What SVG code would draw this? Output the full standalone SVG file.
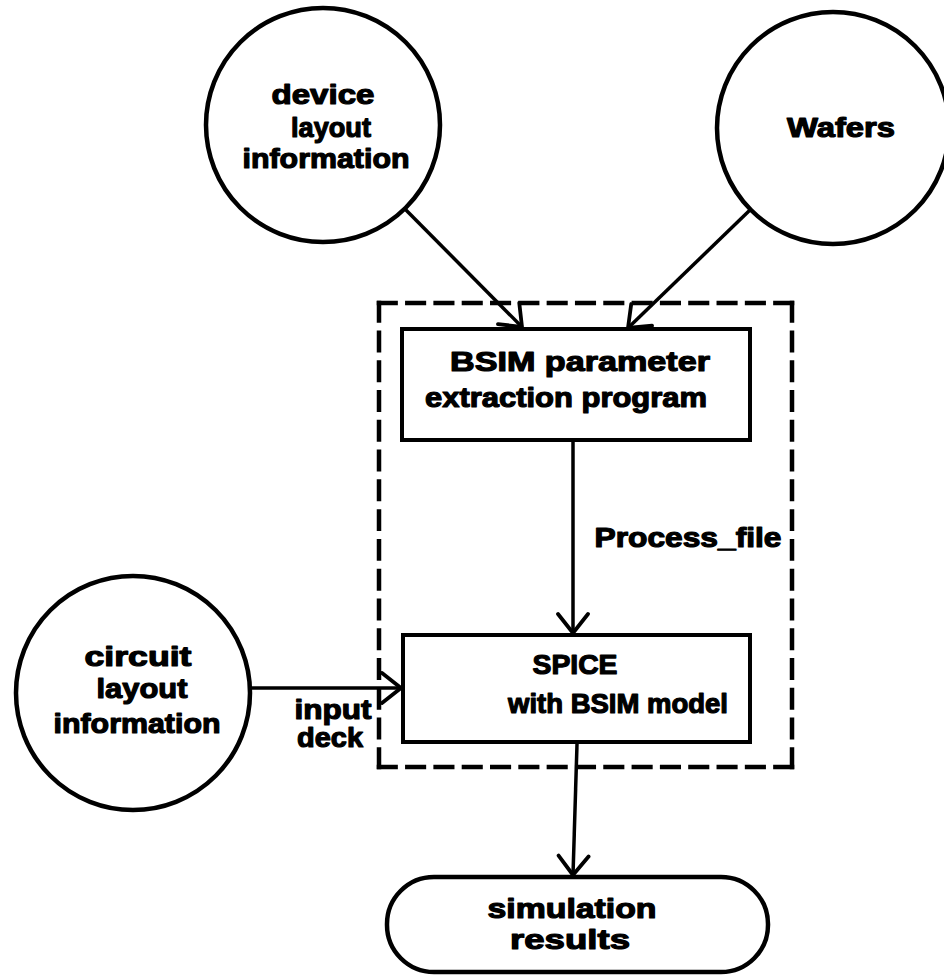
<svg xmlns="http://www.w3.org/2000/svg" width="944" height="977" viewBox="0 0 944 977">
  <style>
    .bg { fill: #ffffff; }
    .shape { fill: #ffffff; stroke: #000000; stroke-width: 4.5; }
    .box { fill: #ffffff; stroke: #000000; stroke-width: 4; }
    .frame { fill: none; stroke: #000000; stroke-width: 4.5; stroke-dasharray: 17 12; stroke-linecap: square; }
    .link { fill: none; stroke: #000000; stroke-width: 3.5; }
    .label { font-family: "Liberation Sans", Arial, Helvetica, sans-serif; font-weight: bold; font-size: 28px; fill: #000000; stroke: #000000; stroke-width: 1.2; stroke-linejoin: round; }
  </style>
  <defs>
    <marker id="open-arrow" markerUnits="userSpaceOnUse" markerWidth="34" markerHeight="36" refX="22" refY="17" orient="auto">
      <path d="M3,2 L22,17 L3,32" fill="none" stroke="#000000" stroke-width="3.8" stroke-linecap="round" stroke-linejoin="round"/>
    </marker>
  </defs>

  <rect class="bg" x="0" y="0" width="944" height="977"/>

  <!-- dashed boundary around the extraction and simulation stages;
       each side is scaled so a dash lands on both of its corners -->
  <g id="stage-boundary">
    <path class="frame" d="M379,303 H792" pathLength="423"/>
    <path class="frame" d="M792,303 V767" pathLength="452"/>
    <path class="frame" d="M792,767 H379" pathLength="423"/>
    <path class="frame" d="M379,767 V303" pathLength="452"/>
  </g>

  <g id="connectors">
    <line class="link" x1="403" y1="207" x2="522" y2="327" marker-end="url(#open-arrow)"/>
    <line class="link" x1="750" y1="210" x2="628" y2="328" marker-end="url(#open-arrow)"/>
    <line class="link" x1="573" y1="442" x2="573" y2="633" marker-end="url(#open-arrow)"/>
    <line class="link" x1="250" y1="688" x2="401" y2="688" marker-end="url(#open-arrow)"/>
    <line class="link" x1="577" y1="744" x2="573" y2="875" marker-end="url(#open-arrow)"/>
  </g>

  <g id="device-layout">
    <circle class="shape" cx="323" cy="125" r="117"/>
    <text class="label" x="323" y="104" text-anchor="middle" textLength="103" lengthAdjust="spacingAndGlyphs">device</text>
    <text class="label" x="331" y="137" text-anchor="middle" textLength="80" lengthAdjust="spacingAndGlyphs">layout</text>
    <text class="label" x="326" y="168" text-anchor="middle" textLength="167" lengthAdjust="spacingAndGlyphs">information</text>
  </g>

  <g id="wafers">
    <circle class="shape" cx="833" cy="128" r="116"/>
    <text class="label" x="841" y="137" text-anchor="middle" textLength="108" lengthAdjust="spacingAndGlyphs">Wafers</text>
  </g>

  <g id="bsim-extraction">
    <rect class="box" x="402" y="329" width="348" height="111"/>
    <text class="label" x="580" y="371" text-anchor="middle" textLength="260" lengthAdjust="spacingAndGlyphs">BSIM  parameter</text>
    <text class="label" x="566" y="407" text-anchor="middle" textLength="282" lengthAdjust="spacingAndGlyphs">extraction program</text>
  </g>

  <g id="process-file-label">
    <text class="label" x="688" y="547" text-anchor="middle" textLength="187" lengthAdjust="spacingAndGlyphs">Process_file</text>
  </g>

  <g id="spice">
    <rect class="box" x="403" y="635" width="347" height="107"/>
    <text class="label" x="575" y="674" text-anchor="middle" textLength="85" lengthAdjust="spacingAndGlyphs">SPICE</text>
    <text class="label" x="618" y="713" text-anchor="middle" textLength="220" lengthAdjust="spacingAndGlyphs">with BSIM model</text>
  </g>

  <g id="circuit-layout">
    <circle class="shape" cx="133" cy="693" r="117"/>
    <text class="label" x="138" y="666" text-anchor="middle" textLength="107" lengthAdjust="spacingAndGlyphs">circuit</text>
    <text class="label" x="142" y="698" text-anchor="middle" textLength="91" lengthAdjust="spacingAndGlyphs">layout</text>
    <text class="label" x="137" y="733" text-anchor="middle" textLength="167" lengthAdjust="spacingAndGlyphs">information</text>
  </g>

  <g id="input-deck-label">
    <text class="label" x="333" y="719" text-anchor="middle" textLength="77" lengthAdjust="spacingAndGlyphs">input</text>
    <text class="label" x="330" y="747" text-anchor="middle" textLength="66" lengthAdjust="spacingAndGlyphs">deck</text>
  </g>

  <g id="simulation-results">
    <rect class="shape" x="387" y="877" width="381" height="95" rx="47" ry="47"/>
    <text class="label" x="572" y="918" text-anchor="middle" textLength="169" lengthAdjust="spacingAndGlyphs">simulation</text>
    <text class="label" x="570" y="949" text-anchor="middle" textLength="120" lengthAdjust="spacingAndGlyphs">results</text>
  </g>
</svg>
